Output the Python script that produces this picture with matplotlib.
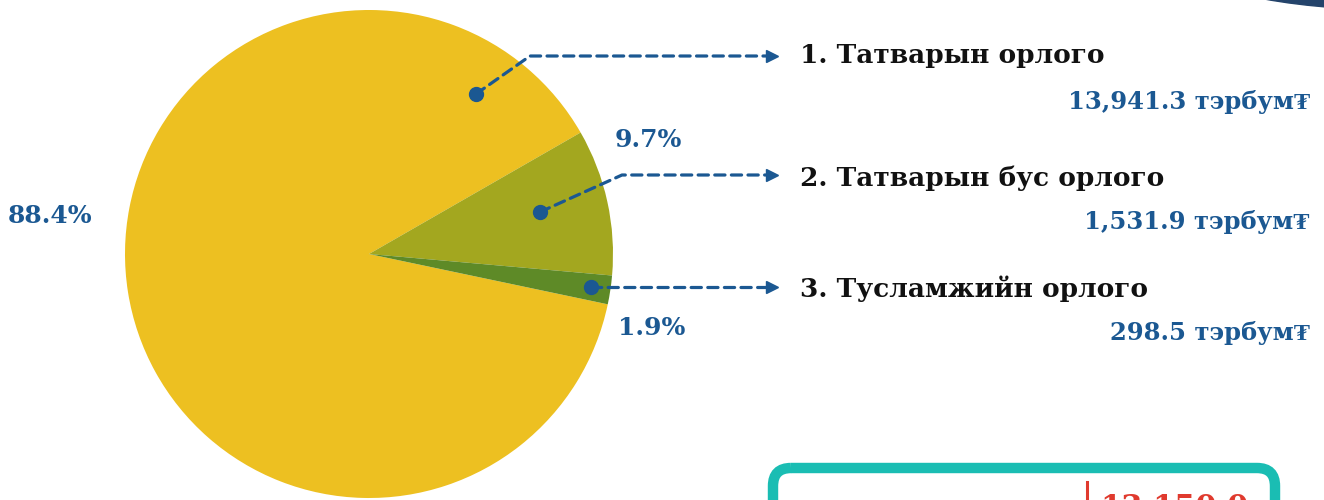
import matplotlib

matplotlib.use("Agg")
import matplotlib.pyplot as plt
from matplotlib.patches import Ellipse, FancyBboxPatch

shares = [88.4, 9.7, 1.9]
share_labels = ["88.4%", "9.7%", "1.9%"]
names = ["1. Татварын орлого", "2. Татварын бус орлого", "3. Тусламжийн орлого"]
amounts = ["13,941.3 тэрбум₮", "1,531.9 тэрбум₮", "298.5 тэрбум₮"]
total_label = "13,150.0"

colors = ["#EDC021", "#A3A71F", "#5E8A27"]
blue = "#1B5892"
serif = ["DejaVu Serif", "Liberation Serif", "DejaVu Sans"]

fig = plt.figure(figsize=(13.24, 5), dpi=100)
ax = fig.add_axes([0, 0, 1, 1])

# pie in pixel coordinates (y axis inverted below, so angles are mirrored)
ax.pie(shares, colors=colors, center=(369, 254), radius=244,
       startangle=11.9, counterclock=True,
       wedgeprops=dict(linewidth=0))
ax.set_xlim(0, 1324)
ax.set_ylim(500, 0)
ax.set_aspect("equal")
ax.axis("off")

# percentage labels
label_pos = [(50, 216), (648, 140), (652, 328)]
for txt, (x, y) in zip(share_labels, label_pos):
    ax.text(x, y, txt, color=blue, fontsize=18, fontweight="bold",
            family=serif, ha="center", va="center")

# leader lines: dot -> elbow -> arrow
leaders = [
    [(476, 94), (530, 56), (770, 56)],
    [(540, 212), (622, 175), (770, 175)],
    [(591, 287), (591, 287), (770, 287)],
]
for pts in leaders:
    xs = [p[0] for p in pts]
    ys = [p[1] for p in pts]
    ax.plot(xs, ys, color=blue, lw=2.3, linestyle=(0, (3.2, 2.0)),
            dash_capstyle="round", solid_capstyle="round")
    ax.plot(xs[0], ys[0], "o", color=blue, ms=10, mec=blue)
    ax.plot(xs[-1] + 2, ys[-1], ">", color=blue, ms=9, mec=blue)

# category names and amounts
name_y = [56, 178, 289]
amount_y = [102, 222, 333]
for name, amt, ny, ay in zip(names, amounts, name_y, amount_y):
    ax.text(800, ny, name, color="#111111", fontsize=19, fontweight="bold",
            family=serif, ha="left", va="center")
    ax.text(1310, ay, amt, color=blue, fontsize=17.5, fontweight="bold",
            family=serif, ha="right", va="center")

# partial total box at the bottom
box = FancyBboxPatch((773, 468), 502, 80, boxstyle="round,pad=0,rounding_size=18",
                     fill=False, ec="#1ABDB3", lw=7.5)
ax.add_patch(box)
ax.plot([1087, 1087], [482, 520], color="#E03A2E", lw=2.2)
ax.text(1100, 493, total_label, color="#E03A2E", fontsize=22, fontweight="bold",
        family=serif, ha="left", va="top")

# decorative corner shape
ax.add_patch(Ellipse((1400, -40), 434, 100, color="#24446B"))

fig.savefig("out.png", dpi=100)
plt.close(fig)
